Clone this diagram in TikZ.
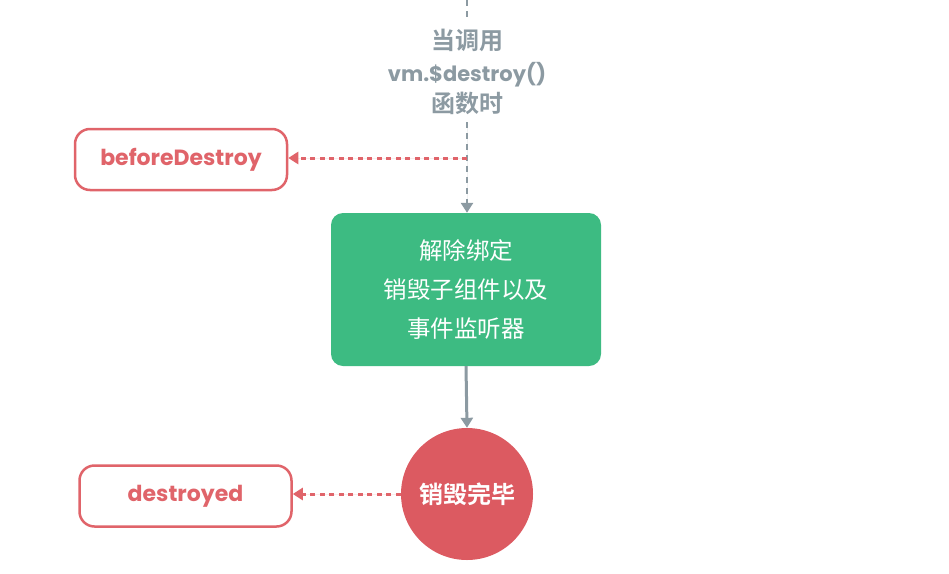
\documentclass[tikz,border=0pt]{standalone}
\usepackage{fontspec}
\setmainfont{Poppins}[BoldFont=* Bold]
\newfontfamily\cjk{Noto Sans CJK SC}[BoldFont=* Bold]
\usetikzlibrary{arrows.meta}
\definecolor{vgreen}{HTML}{3DBB82}
\definecolor{vred}{HTML}{DC5A61}
\definecolor{vredline}{HTML}{E0646A}
\definecolor{vgrey}{HTML}{8C9AA2}
\tikzset{
  hook/.style={draw=vredline, line width=2.5pt, rounded corners=15pt, fill=white,
    minimum width=212pt, minimum height=61pt, text=vredline, font=\fontsize{22}{26}\selectfont\bfseries},
  procbox/.style={fill=vgreen, rounded corners=12pt, minimum width=270pt, minimum height=153pt,
    text=white, align=center, font=\fontsize{23.5}{39}\selectfont\cjk},
  endcirc/.style={circle, fill=vred, minimum size=132pt, inner sep=0pt, text=white,
    font=\fontsize{24}{28}\selectfont\cjk\bfseries},
  lbl/.style={text=vgrey, align=center, font=\fontsize{21}{31.5}\selectfont\bfseries},
  lblcjk/.style={font=\fontsize{24}{31.5}\selectfont\cjk\bfseries},
  greydash/.style={draw=vgrey, line width=2.5pt, dash pattern=on 6pt off 5pt},
  reddash/.style={draw=vredline, line width=3pt, dash pattern=on 5pt off 4.5pt},
  tip/.style={-{Triangle[length=10pt,width=12pt]}},
}
\begin{document}
\begin{tikzpicture}[x=1pt,y=-1pt]
\useasboundingbox (0,0) rectangle (949,573);
\coordinate (top) at (467,0);
\node[lbl] (call) at (467,72) {{\fontsize{24}{31.5}\selectfont\cjk\bfseries 当调用}\\vm.\$destroy()\\{\fontsize{24}{31.5}\selectfont\cjk\bfseries 函数时}};
\node[hook] (bd) at (181,159.5) {beforeDestroy};
\node[procbox] (proc) at (466,289.5) {解除绑定\\销毁子组件以及\\事件监听器};
\node[endcirc] (done) at (467,494) {销毁完毕};
\node[hook] (dd) at (185.5,496) {destroyed};
\coordinate (split) at (467,158);
\draw[greydash] (top) -- (467,20);
\draw[greydash, tip, draw=vgrey, fill=vgrey] (467,122) -- (proc.north -| 467,0);
\draw[reddash, tip, fill=vredline] (split) -- (bd.east |- split);
\draw[draw=vgrey, line width=3pt, tip, fill=vgrey] (proc.south) -- (done.north);
\draw[reddash, tip, fill=vredline] (done.west) -- (dd.east |- done.west);
\end{tikzpicture}
\end{document}
